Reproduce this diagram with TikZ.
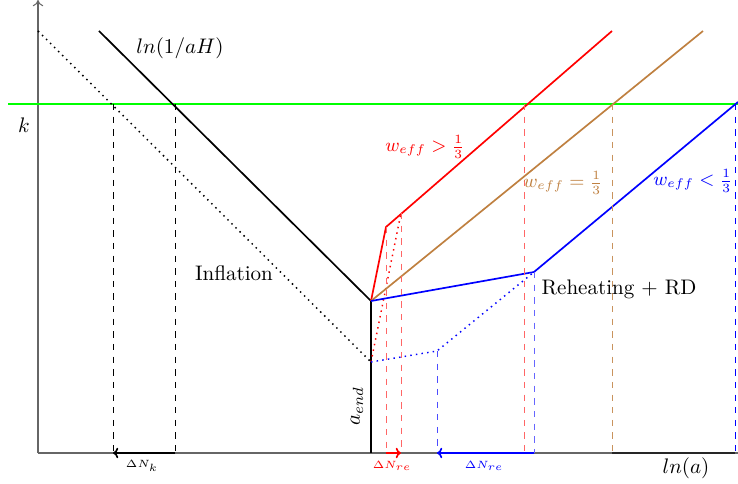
\documentclass[tikz,border=0pt]{standalone}
\usetikzlibrary{arrows.meta}
\definecolor{lgreen}{RGB}{0,255,0}
\begin{document}
\begin{tikzpicture}[x=0.475pt,y=-0.475pt,
  axis/.style={draw=black!60,line width=0.5pt},
  curve/.style={line width=0.8pt},
  vdash/.style={dash pattern=on 3pt off 3pt,line width=0.4pt},
  dots/.style={dotted,line width=0.7pt},
  dn/.style={line width=0.8pt,-{To[length=2.5pt,width=5pt]}},
  lab/.style={inner sep=1pt}]
\useasboundingbox (0,0) rectangle (738,484);
% coordinates
\coordinate (O) at (38,453);
\coordinate (Ytop) at (38,0);
\coordinate (Xend) at (738,453);
\coordinate (G1) at (8,104);
\coordinate (G2) at (738,104);
\coordinate (Bs) at (99,31);
\coordinate (E) at (371,301);
\coordinate (Ds) at (38,31);
\coordinate (Ed) at (371,362);
\coordinate (Eb) at (371,453);
\coordinate (R1) at (386,227);
\coordinate (R2) at (612,31);
\coordinate (Rd) at (401,213);
\coordinate (Br) at (703,31);
\coordinate (B1) at (534,272);
\coordinate (B2) at (738,102);
\coordinate (Bd) at (437,351);
% axes
\draw[axis,-{To[length=3pt,width=5pt]}] (O) -- (Ytop);
\draw[axis] (O) -- (Xend);
\coordinate (Ax1) at (612,453);
\coordinate (Ax2) at (735,453);
\draw[line width=0.7pt,black!85] (Ax1) -- (Ax2);
% green
\draw[lgreen,line width=0.8pt] (G1) -- (G2);
% inflation
\draw[curve] (Bs) -- (E);
\draw[dots] (Ds) -- (Ed);
\draw[curve] (E) -- (Eb);
% red
\draw[curve,red] (E) -- (R1) -- (R2);
\draw[dots,red] (Ed) -- (Rd);
% brown
\draw[curve,brown] (E) -- (Br);
% blue
\draw[curve,blue] (E) -- (B1) -- (B2);
\draw[dots,blue] (Ed) -- (Bd) -- (B1);
% dashed verticals
\foreach \x/\yt/\c/\n in {113/104/black/k1,175/104/black/k2,386/227/red!60/r1,401/213/red!60/r2,524/104/red!60/r3,437/351/blue!70/b1,534/272/blue!60/b2,735/104/blue/b3,612/104/brown!85/w1}{
  \coordinate (\n t) at (\x,\yt);
  \coordinate (\n b) at (\x,453);
  \draw[vdash,\c] (\n t) -- (\n b);
}
% Delta N arrows
\draw[dn,black] (k2b) -- (k1b);
\draw[dn,red] (r1b) -- (r2b);
\draw[dn,blue] (b2b) -- (b1b);
% labels
\node[lab] (lnah) at (180,48) {$ln(1/aH)$};
\node[lab] (kl) at (24,125) {$k$};
\node[lab] (infl) at (234,273) {Inflation};
\node[lab] (rh) at (619,289) {Reheating + RD};
\node[lab,rotate=90] (aend) at (357,406) {$a_{end}$};
\node[lab] (lna) at (686,468) {$ln(a)$};
\node[lab,font=\tiny] (dnk) at (142,466) {$\Delta N_k$};
\node[lab,font=\tiny,text=red] (dnr) at (392,466) {$\Delta N_{re}$};
\node[lab,font=\tiny,text=blue] (dnb) at (484,466) {$\Delta N_{re}$};
\node[lab,font=\small,text=red] (wg) at (425,147) {$w_{eff}>\frac{1}{3}$};
\node[lab,font=\small,text=brown] (we) at (563,183) {$w_{eff}=\frac{1}{3}$};
\node[lab,font=\small,text=blue] (wl) at (693,181) {$w_{eff}<\frac{1}{3}$};
\end{tikzpicture}
\end{document}
